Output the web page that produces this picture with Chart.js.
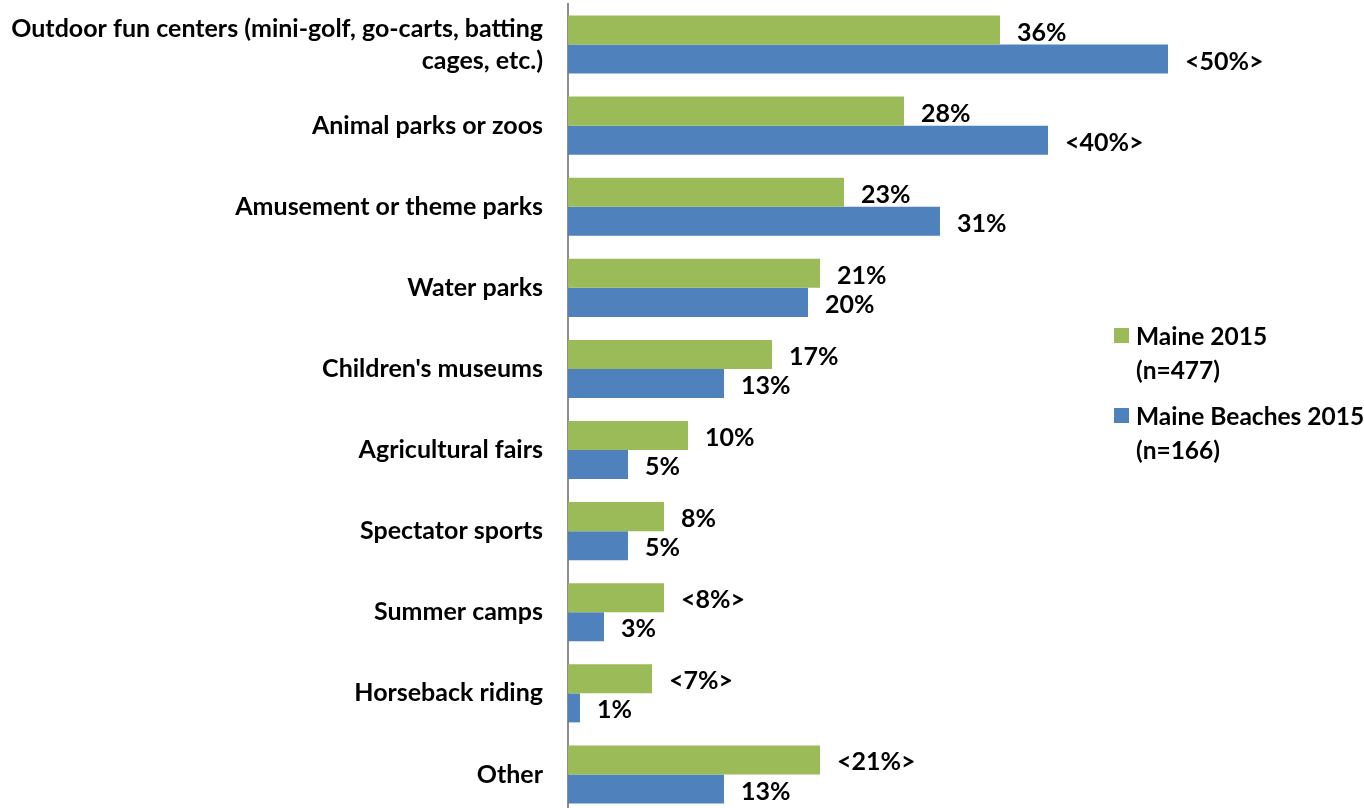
<!DOCTYPE html>
<html>
<head>
<meta charset="utf-8">
<script src="https://cdn.jsdelivr.net/npm/chart.js@4.4.1/dist/chart.umd.min.js"></script>
<style>
    html, body { margin: 0; padding: 0; background: #fff; overflow: hidden; }
    #wrap { position: relative; width: 1364px; height: 815px; }
    .legend { position: absolute; left: 1114px; font: bold 24.5px Lato, sans-serif; color: #000; line-height: 34px; }
    .legend .box { position: absolute; left: 0; top: 9px; width: 15px; height: 15px; }
    .legend .txt { position: absolute; left: 22px; top: 0; white-space: nowrap; }
</style>
</head>
<body>
<div id="wrap">
    <canvas id="activities-chart" width="1364" height="815"></canvas>
    <div class="legend" style="top: 319px;"><div class="box" style="background:#9BBB59"></div><div class="txt">Maine 2015<br>(n=477)</div></div>
    <div class="legend" style="top: 399px;"><div class="box" style="background:#4F81BD"></div><div class="txt">Maine Beaches 2015<br>(n=166)</div></div>
</div>
<script>
    'use strict';

    var categories = [
        ['Outdoor fun centers (mini-golf, go-carts, batting', 'cages, etc.)'],
        'Animal parks or zoos',
        'Amusement or theme parks',
        'Water parks',
        "Children's museums",
        'Agricultural fairs',
        'Spectator sports',
        'Summer camps',
        'Horseback riding',
        'Other'
    ];
    var maine2015 = [36, 28, 23, 21, 17, 10, 8, 8, 7, 21];
    var maineBeaches2015 = [50, 40, 31, 20, 13, 5, 5, 3, 1, 13];
    // values shown as <x%> in the labels
    var maine2015Flagged = [false, false, false, false, false, false, false, true, true, true];
    var maineBeachesFlagged = [true, true, false, false, false, false, false, false, false, false];

    var labelFont = 'bold 25px Lato, sans-serif';

    function formatValue(value, flagged) {
        return flagged ? '<' + value + '%>' : value + '%';
    }

    // draws the percentage next to the end of each bar
    var valueLabels = {
        id: 'valueLabels',
        afterDatasetsDraw: function(chart) {
            var ctx = chart.ctx;
            ctx.save();
            ctx.font = labelFont;
            ctx.fillStyle = '#000';
            ctx.textAlign = 'left';
            ctx.textBaseline = 'middle';
            chart.data.datasets.forEach(function(dataset, i) {
                var meta = chart.getDatasetMeta(i);
                meta.data.forEach(function(bar, j) {
                    var text = formatValue(dataset.data[j], dataset.flagged[j]);
                    ctx.fillText(text, bar.x + 17, bar.y + 2.5);
                });
            });
            ctx.restore();
        }
    };

    var context = document.getElementById('activities-chart').getContext('2d');
    var chart = new Chart(context, {
        type: 'bar',
        data: {
            labels: categories,
            datasets: [
                {
                    label: 'Maine 2015 (n=477)',
                    data: maine2015,
                    flagged: maine2015Flagged,
                    backgroundColor: '#9BBB59'
                },
                {
                    label: 'Maine Beaches 2015 (n=166)',
                    data: maineBeaches2015,
                    flagged: maineBeachesFlagged,
                    backgroundColor: '#4F81BD'
                }
            ]
        },
        options: {
            indexAxis: 'y',
            responsive: false,
            animation: false,
            layout: { padding: { top: 4, right: 76, bottom: 0, left: 0 } },
            categoryPercentage: 0.716,
            barPercentage: 1,
            plugins: {
                legend: { display: false },
                tooltip: { enabled: false }
            },
            scales: {
                x: {
                    display: false,
                    min: 0,
                    max: 60
                },
                y: {
                    grid: { display: false, drawTicks: false },
                    border: { display: true, color: '#8c8c8c', width: 2 },
                    ticks: {
                        color: '#000',
                        padding: 25,
                        font: { family: 'Lato, sans-serif', size: 25, weight: 'bold', lineHeight: 1.28 }
                    },
                    afterFit: function(scale) {
                        // fixed label column; labels sit in their own rows so no extra padding
                        scale.width = 568;
                        scale.paddingTop = 0;
                        scale.paddingBottom = 0;
                    }
                }
            }
        },
        plugins: [valueLabels]
    });
</script>
</body>
</html>
